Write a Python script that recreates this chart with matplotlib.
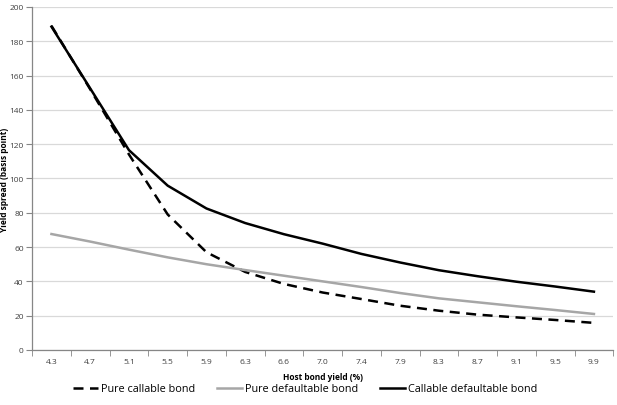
import numpy as np
import matplotlib
matplotlib.use("Agg")
import matplotlib.pyplot as plt
from matplotlib.ticker import FixedLocator

plt.rcParams["font.family"] = ["Open Sans", "DejaVu Sans"]

# Data
host_yield = ["4.3", "4.7", "5.1", "5.5", "5.9", "6.3", "6.6", "7.0",
              "7.4", "7.9", "8.3", "8.7", "9.1", "9.5", "9.9"]
pure_callable = [189, 152, 114, 79, 57, 45.5, 38.5, 33.5, 29.7, 25.8, 22.9, 20.6, 19, 17.5, 15.8]
pure_defaultable = [67.6, 63.2, 58.5, 54, 50, 46.6, 43.3, 40, 36.7, 33.2, 30.1, 27.8, 25.5, 23.3, 21]
callable_defaultable = [188.5, 152.5, 116.5, 95.8, 82.5, 74, 67.5, 62, 56, 51, 46.5, 43, 39.8, 37, 34]

fig = plt.figure(figsize=(6.17, 4.06), dpi=100)
ax = fig.add_axes([0.052, 0.1355, 0.942, 0.845])

x = np.arange(len(host_yield))
ax.plot(x, pure_callable, color="black", lw=1.8, ls=(0, (4, 2.6)), label="Pure callable bond")
ax.plot(x, pure_defaultable, color="#a6a6a6", lw=1.8, label="Pure defaultable bond")
ax.plot(x, callable_defaultable, color="black", lw=1.8, label="Callable defaultable bond")

ax.set_xlim(-0.5, len(host_yield) - 0.5)
ax.set_ylim(0, 200)
ax.set_yticks(range(0, 201, 20))
ax.set_xticks(x)
ax.set_xticklabels(host_yield)
ax.xaxis.set_minor_locator(FixedLocator(np.arange(-0.5, len(host_yield), 1)))

ax.grid(axis="y", color="#d9d9d9", lw=0.9)
ax.set_axisbelow(True)
for side in ["top", "right"]:
    ax.spines[side].set_visible(False)
for side in ["left", "bottom"]:
    ax.spines[side].set_color("#868686")
    ax.spines[side].set_linewidth(0.9)

ax.tick_params(axis="x", which="major", length=0, labelsize=6, colors="#404040", pad=6)
ax.tick_params(axis="x", which="minor", length=4, color="#868686", direction="out")
ax.tick_params(axis="y", length=4, color="#868686", labelsize=6, labelcolor="#404040", pad=2)

ax.set_xlabel("Host bond yield (%)", fontsize=6, fontweight="bold", labelpad=5)
ax.set_ylabel("Yield spread (basis point)", fontsize=6, fontweight="bold")
ax.yaxis.set_label_coords(-0.04, 0.5)

fig.legend(*ax.get_legend_handles_labels(), loc="center",
           bbox_to_anchor=(305 / 617, 1 - 390 / 406), ncol=3, frameon=False,
           fontsize=7.8, handlelength=2.3, handletextpad=0.3, columnspacing=2.0)

fig.savefig("out.png", dpi=100)
